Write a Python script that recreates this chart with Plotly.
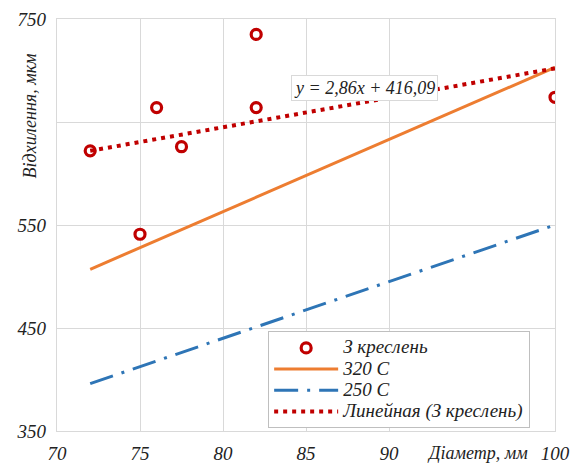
import plotly.graph_objects as go

# Data
pts_x = [72, 75, 76, 77.5, 82, 82, 100]
pts_y = [622, 541, 664, 626, 735, 664, 674]

line320_x = [72, 100]
line320_y = [507, 703]

line250_x = [72, 100]
line250_y = [396, 550]

trend_slope = 2.86
trend_intercept = 416.09
trend_x = [72, 100]
trend_y = [trend_slope * v + trend_intercept for v in trend_x]

x_ticks = [70, 75, 80, 85, 90, 100]
y_ticks = [350, 450, 550, 650, 750]
y_ticktext = ["350", "450", "550", "", "750"]

FONT = dict(family="Liberation Serif", style="italic", color="#222222")

def it(s):
    return f"<i>{s}</i>" if s else ""

def leg(s):
    return f"<span style='font-size:19px'><i>{s}</i></span>"

fig = go.Figure()
fig.add_trace(go.Scatter(
    x=pts_x, y=pts_y, mode="markers", name=leg("З креслень"),
    marker=dict(symbol="circle", size=10, color="white",
                line=dict(color="#C00000", width=3.2)),
))
fig.add_trace(go.Scatter(
    x=line320_x, y=line320_y, mode="lines", name=leg("320 C"),
    line=dict(color="#ED7D31", width=3),
))
fig.add_trace(go.Scatter(
    x=line250_x, y=line250_y, mode="lines", name=leg("250 C"),
    line=dict(color="#2E75B6", width=3, dash="24px,9px,3px,9px"),
))
fig.add_trace(go.Scatter(
    x=trend_x, y=trend_y, mode="lines", name=leg("Линейная (З креслень)"),
    line=dict(color="#C00000", width=4, dash="4px,5px"),
))

fig.add_annotation(
    x=88.5, y=683, xref="x", yref="y",
    text=it(f"y = {str(trend_slope).replace('.', ',')}x + {str(trend_intercept).replace('.', ',')}"),
    showarrow=False, font=dict(size=18, **FONT),
    bgcolor="white", bordercolor="#D9D9D9", borderwidth=1, borderpad=2,
)
fig.add_annotation(
    x=0.845, y=-0.053, xref="paper", yref="paper",
    text=it("Діаметр, мм"), showarrow=False,
    font=dict(size=18, **FONT), xanchor="center", yanchor="middle",
)
fig.add_annotation(
    x=-0.055, y=0.765, xref="paper", yref="paper",
    text=it("Відхилення, мкм"), showarrow=False, textangle=-90,
    font=dict(size=18, **FONT), xanchor="center", yanchor="middle",
)

fig.update_xaxes(
    range=[70, 100], tickvals=x_ticks, ticktext=[it(str(v)) for v in x_ticks],
    showgrid=True, gridcolor="#D9D9D9", gridwidth=1.3,
    showline=True, linecolor="#D9D9D9", linewidth=1.3, mirror=True,
    zeroline=False, tickfont=dict(size=19, **FONT), ticks="",
    ticklabelstandoff=5, automargin=False,
)
fig.update_yaxes(
    range=[350, 750], tickvals=y_ticks, ticktext=[it(t) for t in y_ticktext],
    showgrid=True, gridcolor="#D9D9D9", gridwidth=1.3,
    showline=True, linecolor="#D9D9D9", linewidth=1.3, mirror=True,
    zeroline=False, tickfont=dict(size=19, **FONT), ticks="",
    ticklabelstandoff=6, automargin=False,
)

fig.update_layout(
    width=570, height=463,
    margin=dict(l=57, r=15, t=19, b=32),
    paper_bgcolor="white", plot_bgcolor="white",
    showlegend=True,
    legend=dict(
        x=0.424, y=0.242, xanchor="left", yanchor="top",
        bgcolor="white", bordercolor="#BFBFBF", borderwidth=1,
        font=dict(size=14, **FONT), itemwidth=64,
        tracegroupgap=0,
    ),
)

fig.write_html("out.html", post_script="document.body.style.margin='0';",
               config={"displayModeBar": False})
